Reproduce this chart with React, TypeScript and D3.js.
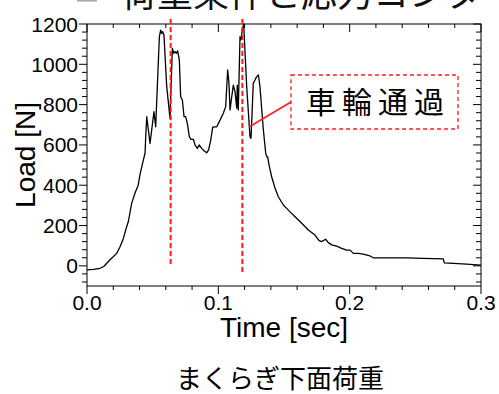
import React from "react";
import * as d3 from "d3";

const times = [0, 0.005, 0.01, 0.013, 0.0175, 0.02, 0.0226, 0.025, 0.0277, 0.03, 0.0315, 0.034, 0.0365, 0.039, 0.0404, 0.0429, 0.0442, 0.0447, 0.0455, 0.048, 0.051, 0.0523, 0.0551, 0.0561, 0.0568, 0.0576, 0.0586, 0.0607, 0.0632, 0.065, 0.066, 0.067, 0.068, 0.069, 0.0703, 0.0713, 0.0726, 0.0739, 0.0751, 0.0764, 0.0779, 0.0792, 0.081, 0.0822, 0.084, 0.0855, 0.0873, 0.0891, 0.0911, 0.0926, 0.0942, 0.0957, 0.0967, 0.0988, 0.1013, 0.1038, 0.1056, 0.1064, 0.1071, 0.1081, 0.1089, 0.1102, 0.1114, 0.1127, 0.114, 0.1144, 0.1152, 0.1165, 0.1173, 0.1182, 0.1193, 0.1216, 0.1241, 0.1249, 0.1266, 0.1279, 0.1292, 0.1305, 0.1317, 0.1335, 0.1343, 0.1361, 0.1369, 0.1376, 0.1386, 0.1406, 0.1432, 0.1457, 0.1495, 0.152, 0.1546, 0.1584, 0.1635, 0.1685, 0.1736, 0.1767, 0.1786, 0.1817, 0.1837, 0.1868, 0.1901, 0.1939, 0.1977, 0.2003, 0.2028, 0.2066, 0.2103, 0.2155, 0.218, 0.2434, 0.256, 0.2713, 0.272, 0.279, 0.289, 0.3];
const loads = [-20, -18, -12, -2, 30, 45, 62, 92, 136, 190, 220, 310, 360, 400, 455, 525, 560, 640, 740, 608, 765, 690, 1137, 1170, 1154, 1162, 1145, 889, 732, 1079, 1055, 1063, 1055, 1067, 1021, 839, 823, 740, 740, 707, 641, 628, 628, 600, 583, 600, 583, 571, 561, 575, 624, 687, 690, 690, 723, 757, 790, 889, 972, 906, 773, 839, 897, 864, 782, 897, 773, 1137, 1121, 1170, 1200, 889, 641, 633, 906, 922, 939, 947, 889, 740, 674, 558, 541, 541, 500, 442, 385, 343, 302, 285, 268, 244, 211, 178, 153, 125, 120, 132, 115, 103, 98, 87, 78, 78, 62, 62, 58, 49, 40, 40, 37, 35, 15, 12, 9, 4];

const xTickValues = [0, 0.1, 0.2, 0.3];
const xTickLabels = ["0.0", "0.1", "0.2", "0.3"];
const yTickValues = [0, 200, 400, 600, 800, 1000, 1200];
const yTickLabels = ["0", "200", "400", "600", "800", "1000", "1200"];

const markerTimes = [0.0637, 0.1183];
const markerTops = [1225, 1225];
const markerBottoms = [0, -30];

const calloutText = "車輪通過";
const calloutTarget = [0.1234, 689];
const calloutBox = [0.1553, 0.2825, 947, 679];

const titleText = "荷重条件と応力コンタ";
const subtitleText = "まくらぎ下面荷重";
const xTitle = "Time [sec]";
const yTitle = "Load [N]";

const W = 499, H = 394;
const L = 87, R = 481, T = 24, B = 286;
const latin = "'Liberation Sans', Arial, sans-serif";
const cjk = "'Noto Sans CJK JP', 'Noto Sans CJK SC', sans-serif";
const red = "#ff1a1a";

export default function App() {
  const x = d3.scaleLinear().domain([0, 0.3]).range([L, R]);
  const y = d3.scaleLinear().domain([-100, 1200]).range([B, T]);
  const pts = times.map((t, i) => [t, loads[i]] as [number, number]);
  const line = d3.line<[number, number]>().x(d => x(d[0])).y(d => y(d[1]));
  const xMinor = d3.range(0, 0.3001, 0.02);
  const yMinor = d3.range(-80, 1201, 40);

  return (
    <svg width={W} height={H} style={{ position: "fixed", left: 0, top: 0, background: "#fff" }}>
      <defs>
        <clipPath id="plot">
          <rect x={L} y={T - 1} width={R - L} height={B - T + 1} />
        </clipPath>
      </defs>
      <rect x={0} y={0} width={W} height={H} fill="#fff" />
      {/* title (partially cut at the top) */}
      <rect x={77} y={0} width={20} height={1.6} fill="#aaa" />
      <text x={121} y={7} fontFamily={cjk} fontSize={36} fill="#111">{titleText}</text>

      {/* frame */}
      <rect x={L} y={T} width={R - L} height={B - T} fill="none" stroke="#000" strokeWidth={1} />

      {/* x ticks: bottom outside, top inside */}
      {xMinor.map((v, i) => {
        const major = xTickValues.some(m => Math.abs(m - v) < 1e-9);
        const len = major ? 8 : 4;
        return (
          <g key={"xm" + i} stroke="#000" strokeWidth={1}>
            <line x1={x(v)} x2={x(v)} y1={B} y2={B + len} />
            <line x1={x(v)} x2={x(v)} y1={T} y2={T + len} />
          </g>
        );
      })}
      {/* y ticks: left outside, right inside */}
      {yMinor.map((v, i) => {
        const major = yTickValues.includes(v);
        const len = major ? 8 : 5;
        return (
          <g key={"ym" + i} stroke="#000" strokeWidth={1}>
            <line x1={L - len} x2={L} y1={y(v)} y2={y(v)} />
            <line x1={R - len} x2={R} y1={y(v)} y2={y(v)} />
          </g>
        );
      })}
      {xTickValues.map((v, i) => (
        <text key={"xl" + i} x={x(v)} y={310} textAnchor="middle" fontFamily={latin} fontSize={21} fill="#000">{xTickLabels[i]}</text>
      ))}
      {yTickValues.map((v, i) => (
        <text key={"yl" + i} x={78} y={y(v)} dy="0.36em" textAnchor="end" fontFamily={latin} fontSize={21} fill="#000">{yTickLabels[i]}</text>
      ))}
      <text x={(L + R) / 2} y={337} textAnchor="middle" fontFamily={latin} fontSize={28} fill="#000">{xTitle}</text>
      <text transform={`translate(35, ${(T + B) / 2}) rotate(-90)`} textAnchor="middle" fontFamily={latin} fontSize={28} fill="#000">{yTitle}</text>

      {/* data line */}
      <path d={line(pts) || ""} fill="none" stroke="#000" strokeWidth={1.3} strokeLinejoin="round" clipPath="url(#plot)" />

      {/* red dashed markers */}
      {markerTimes.map((t, i) => (
        <line key={"mk" + i} x1={x(t)} x2={x(t)} y1={y(markerTops[i])} y2={y(markerBottoms[i])} stroke={red} strokeWidth={2} strokeDasharray="5,3" />
      ))}

      {/* callout */}
      <line x1={x(calloutBox[0])} y1={(y(calloutBox[2]) + y(calloutBox[3])) / 2} x2={x(calloutTarget[0])} y2={y(calloutTarget[1])} stroke={red} strokeWidth={1.5} />
      <rect x={x(calloutBox[0])} y={y(calloutBox[2])} width={x(calloutBox[1]) - x(calloutBox[0])} height={y(calloutBox[3]) - y(calloutBox[2])} fill="#fff" stroke={red} strokeWidth={1.3} strokeDasharray="4,3" />
      <text x={306} y={(y(calloutBox[2]) + y(calloutBox[3])) / 2} dy="0.36em" fontFamily={cjk} fontSize={30} letterSpacing={6} fill="#000">{calloutText}</text>

      {/* subtitle */}
      <text x={280} y={388} textAnchor="middle" fontFamily={cjk} fontSize={26} fill="#000">{subtitleText}</text>
    </svg>
  );
}
